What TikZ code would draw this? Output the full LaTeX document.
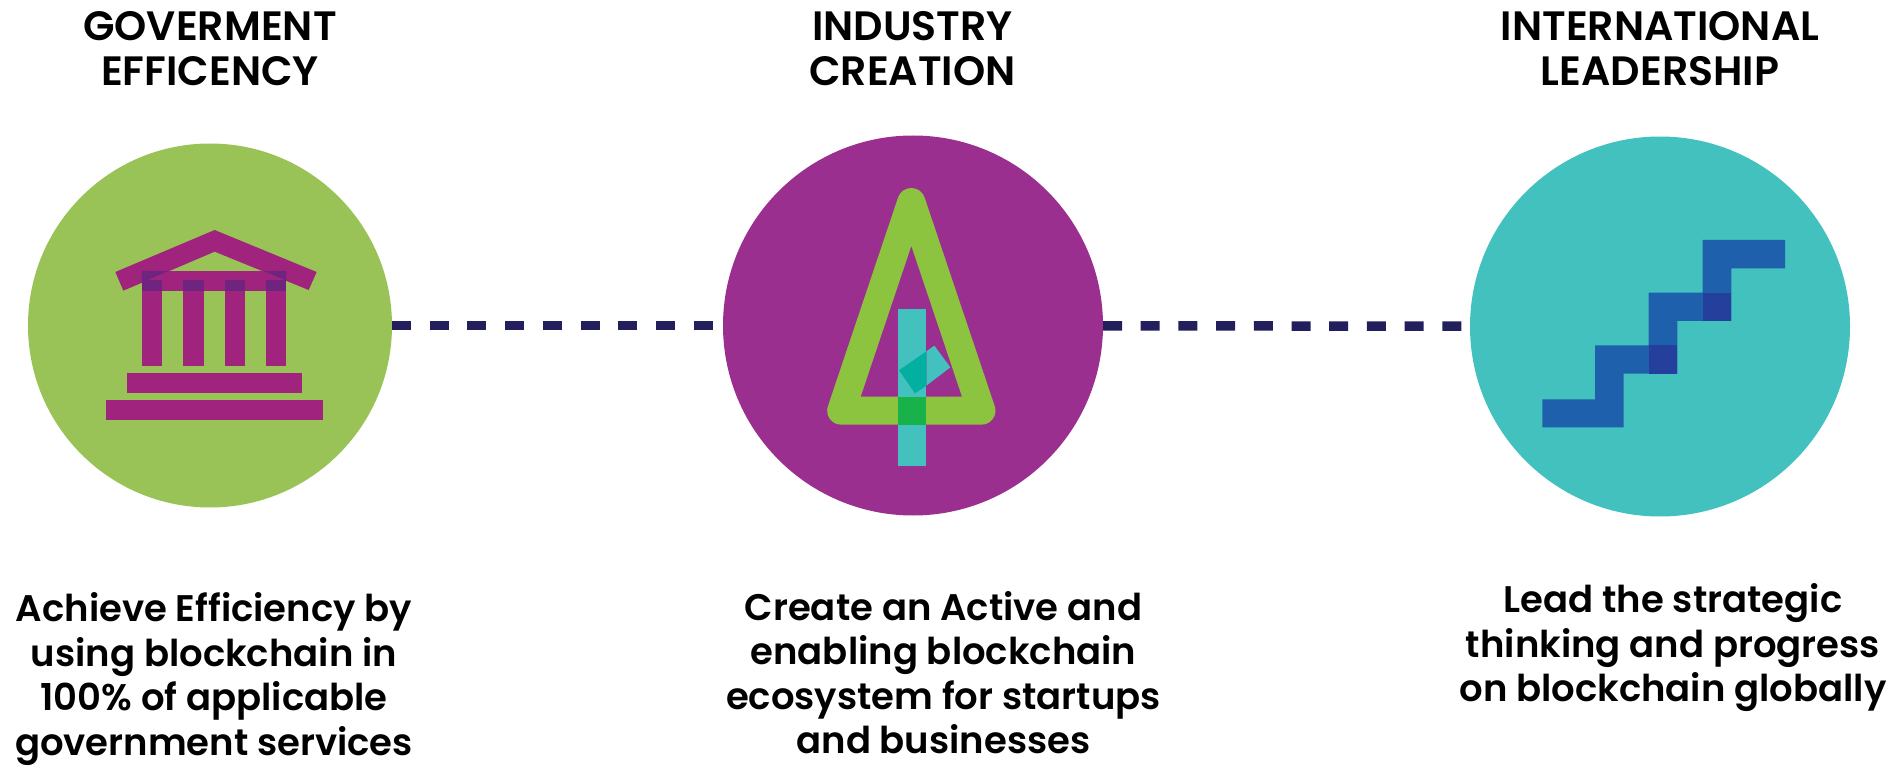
\documentclass[tikz,border=0pt]{standalone}
\usepackage{fontspec}
\setmainfont{Poppins}[BoldFont={Poppins SemiBold}]
\definecolor{cgreen}{HTML}{99C357}
\definecolor{cpurple}{HTML}{9B2F8F}
\definecolor{cteal}{HTML}{43C1BE}
\definecolor{cnavy}{HTML}{231F5C}
\definecolor{roofm}{HTML}{A0247E}
\definecolor{roofd}{HTML}{6F2480}
\definecolor{treeg}{HTML}{8CC43F}
\definecolor{treeo}{HTML}{03AFA0}
\definecolor{treex}{HTML}{18B14A}
\definecolor{stair}{HTML}{1F60AC}
\definecolor{staird}{HTML}{243F9C}
\tikzset{
  disc/.style={circle,inner sep=0pt,outer sep=0pt,minimum size=#1},
  link/.style={draw=cnavy,line width=9.5pt,dash pattern=on 19pt off 18.7pt},
  head/.style={font=\fontsize{41}{44.5}\selectfont\bfseries,align=center,text=black,inner sep=0pt},
  body/.style={font=\fontsize{37}{44.5}\selectfont\bfseries,align=center,text=black,inner sep=0pt},
  zoomed/.style={x=0.33333pt,y=-0.33333pt}
}
\begin{document}
\begin{tikzpicture}[x=1pt,y=-1pt]
\useasboundingbox (0,0) rectangle (1899,767);
\node[disc=364pt,fill=cgreen] (c1) at (210,325.5) {};
\node[disc=380pt,fill=cpurple] (c2) at (913,325.5) {};
\node[disc=380pt,fill=cteal] (c3) at (1660,326.5) {};
\draw[link] (c1) -- (c2);
\draw[link] (c2) -- (c3);
% government building
\begin{scope}[zoomed,yshift=-120pt]
  \fill[roofm] (346,456)--(644,330)--(950,456)--(926,510)--(644,395)--(370,512)--cycle;
  \fill[roofm] (425,453) rectangle (859,514);
  \foreach \a/\b in {425/486,550/611,675/735,799/859}{
    \fill[roofm] (\a,480) rectangle (\b,738);
    \fill[roofd] (\a,480) rectangle (\b,514);
  }
  \fill[roofd] (425,453)--(505,453)--(425,488)--cycle;
  \fill[roofd] (859,453)--(790,453)--(859,482)--cycle;
  \fill[roofm] (380,758) rectangle (905,819);
  \fill[roofm] (317,840) rectangle (968,900);
\end{scope}
% tree
\begin{scope}[zoomed,xshift=700pt,yshift=-120pt]
  \draw[treeg,line width=28pt,line join=round] (634,246)--(844.4,872)--(423.6,872)--cycle;
  \fill[cteal] (595,566) rectangle (679,1038);
  \fill[cteal] (679,694)--(703,677)--(751,742)--(679,797)--cycle;
  \fill[treeo] (597,751)--(679,694)--(679,797)--(645,820)--cycle;
  \fill[treex] (595,830) rectangle (679,914);
\end{scope}
% stairs
\begin{scope}[zoomed,xshift=1399pt,yshift=-120pt]
  \fill[stair] (430,838)--(588,838)--(588,676)--(749,676)--(749,518)--(911,518)--(911,360)--(1158,360)--(1158,445)--(997,445)--(997,603)--(835,603)--(835,761)--(674,761)--(674,922)--(430,922)--cycle;
  \fill[staird] (911,518) rectangle (997,603);
  \fill[staird] (749,676) rectangle (835,761);
\end{scope}
\node[head] (h1) at (210,48.5) {GOVERMENT\\EFFICENCY};
\node[head] (h2) at (912.5,48.5) {INDUSTRY\\CREATION};
\node[head] (h3) at (1660,48.5) {INTERNATIONAL\\LEADERSHIP};
\node[body] (b1) at (214,679) {Achieve Efficiency by\\using blockchain in\\100\% of applicable\\government services};
\node[body] (b2) at (943.5,672.5) {Create an Active and\\enabling blockchain\\ecosystem for startups\\and businesses};
\node[body] (b3) at (1673,648) {Lead the strategic\\thinking and progress\\on blockchain globally};
\end{tikzpicture}
\end{document}
